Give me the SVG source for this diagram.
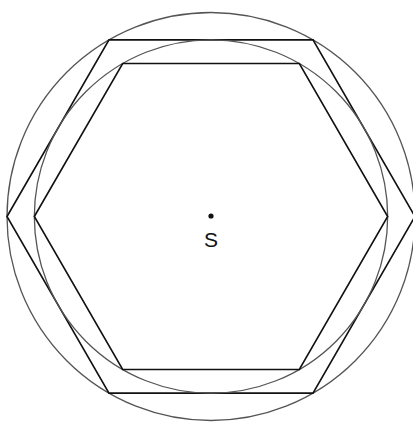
<svg xmlns="http://www.w3.org/2000/svg" width="413" height="422" viewBox="0 0 413 422">
<style>
.c{fill:none;stroke:#555;stroke-width:1.3}
.h{fill:none;stroke:#111;stroke-width:1.6;stroke-linejoin:miter}
.t{font-family:"Liberation Sans",Arial,sans-serif;font-size:21px;fill:#111;text-anchor:middle}
</style>
<rect width="413" height="422" fill="#fff"/>
<g id="outer-circle"><circle class="c" cx="211" cy="216.5" r="204"/></g>
<g id="outer-hexagon"><polygon class="h" points="7,216.5 109,39.83 313,39.83 415,216.5 313,393.17 109,393.17"/></g>
<g id="inner-circle"><circle class="c" cx="211" cy="216.5" r="176.67"/></g>
<g id="inner-hexagon"><polygon class="h" points="34.33,216.5 122.67,63.5 299.33,63.5 387.67,216.5 299.33,369.5 122.67,369.5"/></g>
<g id="center-S"><circle cx="211" cy="216" r="2.6" fill="#111"/><text class="t" x="211" y="246.5">S</text></g>
</svg>
